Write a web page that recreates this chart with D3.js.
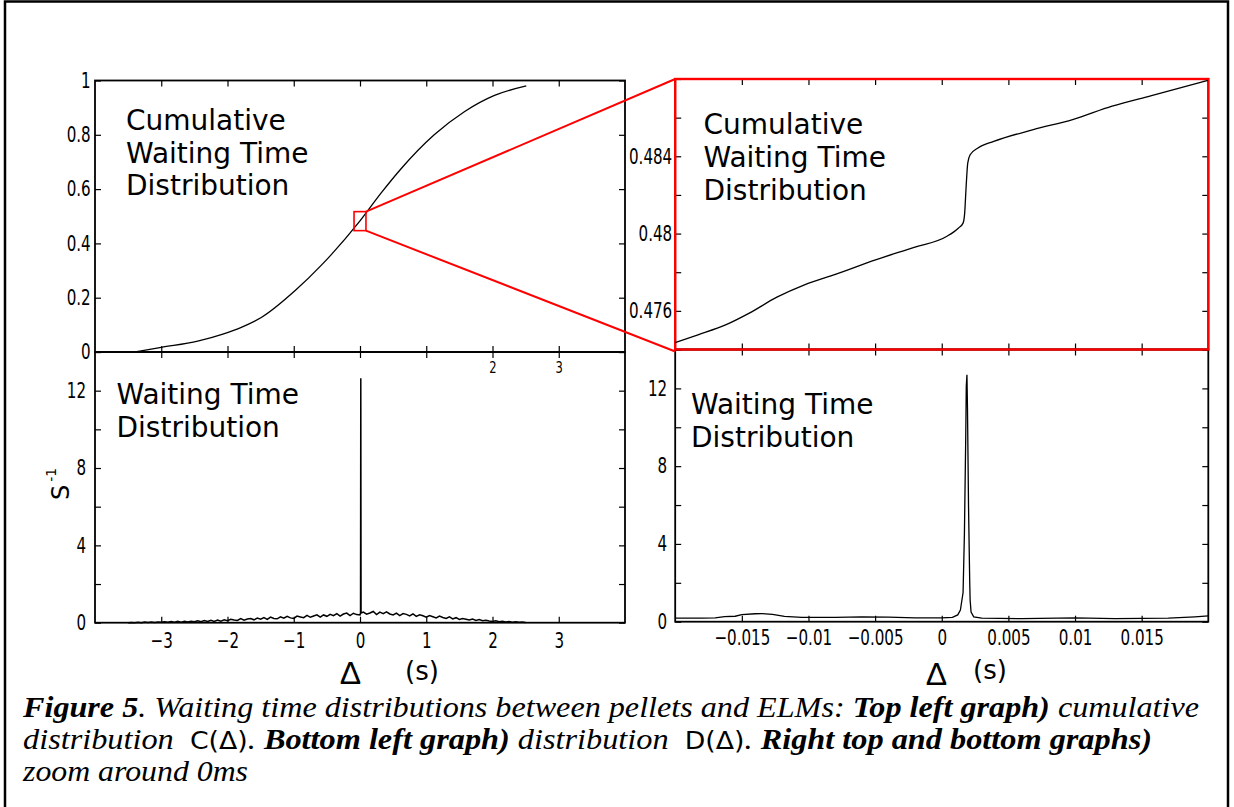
<!DOCTYPE html>
<html>
<head>
<meta charset="utf-8">
<script src="https://cdn.jsdelivr.net/npm/d3@7"></script>
<style>
  body { margin: 0; background: #fff; }
</style>
</head>
<body>
<div id="chart"></div>
<script>
var width = 1234,
    height = 807;

// top left: cumulative waiting time distribution, wide view (s)
var cumX = [-3.4, -3.0, -2.45, -2.07, -1.8, -1.49, -0.97, -0.59, -0.44, 0, 0.317, 0.62, 1.12, 1.575, 2.03, 2.51];
var cumY = [0, 0.017, 0.04, 0.066, 0.09, 0.127, 0.228, 0.318, 0.357, 0.483, 0.585, 0.675, 0.8, 0.885, 0.945, 0.98];

// top right: cumulative, zoom around 0
var zoomCumX = [-0.02, -0.01829, -0.01622, -0.01444, -0.01237, -0.0103, -0.00793, -0.00497, -0.00201, 0.00036, 0.00124, 0.0016,
                0.00172, 0.00183, 0.00195, 0.00213, 0.00272, 0.0039, 0.00687, 0.00982, 0.01278, 0.01574, 0.01997];
var zoomCumY = [0.47436, 0.47476, 0.47527, 0.47588, 0.47671, 0.47735, 0.4779, 0.47864, 0.4793, 0.47985, 0.48028, 0.48054,
                0.48106, 0.48244, 0.48365, 0.48408, 0.48443, 0.48477, 0.48538, 0.4859, 0.48659, 0.48714, 0.48793];

// bottom left: waiting time distribution (s^-1), bins of 0.05 s starting at -3.5 s
var distStart = -3.5, distStep = 0.05;
var distY = [
  0.00, 0.01, 0.00, 0.02, 0.00, 0.03, 0.01, 0.03, 0.01, 0.04,
  0.02, 0.05, 0.02, 0.06, 0.03, 0.07, 0.03, 0.08, 0.04, 0.08,
  0.05, 0.10, 0.05, 0.11, 0.06, 0.13, 0.07, 0.14, 0.08, 0.15,
  0.10, 0.18, 0.14, 0.12, 0.21, 0.13, 0.19, 0.22, 0.15, 0.24,
  0.18, 0.26, 0.17, 0.29, 0.22, 0.20, 0.30, 0.23, 0.33, 0.25,
  0.22, 0.34, 0.30, 0.26, 0.38, 0.28, 0.35, 0.41, 0.29, 0.40,
  0.33, 0.43, 0.36, 0.47, 0.34, 0.45, 0.50, 0.37, 0.49, 0.42,
  0.40, 0.55, 0.44, 0.50, 0.58, 0.42, 0.55, 0.47, 0.56, 0.45,
  0.40, 0.50, 0.37, 0.47, 0.43, 0.35, 0.46, 0.33, 0.41, 0.36,
  0.28, 0.37, 0.31, 0.25, 0.34, 0.27, 0.22, 0.30, 0.20, 0.26,
  0.17, 0.22, 0.18, 0.14, 0.19, 0.12, 0.16, 0.10, 0.13, 0.09,
  0.06, 0.10, 0.05, 0.08, 0.04, 0.06, 0.03, 0.05, 0.02, 0.03,
  0.01
];
var spikeX = [0.008, 0.012, 0.016];
var spikeY = [0.5, 12.64, 0.5];

// bottom right: distribution, zoom around 0
var zoomDistX = [-0.02, -0.018, -0.017, -0.0163, -0.0155, -0.015, -0.014, -0.0135, -0.0127, -0.0118, -0.0105, -0.008, -0.006,
                 -0.004, -0.002, 0, 0.0008, 0.0012, 0.0014, 0.0016, 0.0017, 0.0018, 0.00184, 0.00189, 0.00193, 0.00201,
                 0.0021, 0.00213, 0.0022, 0.0024, 0.003, 0.006, 0.01, 0.013, 0.017, 0.019, 0.02];
var zoomDistY = [0.18, 0.18, 0.2, 0.26, 0.28, 0.36, 0.41, 0.42, 0.38, 0.27, 0.22, 0.22, 0.25,
                 0.24, 0.2, 0.2, 0.22, 0.35, 0.6, 1.5, 4.5, 9.5, 12.1, 12.7, 11.0, 5.9,
                 2.0, 1.1, 0.5, 0.25, 0.18, 0.16, 0.2, 0.16, 0.18, 0.25, 0.3];

// ticks and tick labels
var wideXTicks = [-3, -2, -1, 0, 1, 2, 3];
var wideXLabels = ["\u22123", "\u22122", "\u22121", "0", "1", "2", "3"];
var cumTopXLabels = ["", "", "", "", "", "2", "3"];
var cumYTicks = [0, 0.2, 0.4, 0.6, 0.8, 1];
var cumYLabels = ["0", "0.2", "0.4", "0.6", "0.8", "1"];
var distYTicks = [0, 2, 4, 6, 8, 10, 12, 14];
var distYLabels = ["0", "", "4", "", "8", "", "12", ""];
var zoomXTicks = [-0.015, -0.01, -0.005, 0, 0.005, 0.01, 0.015];
var zoomXLabels = ["\u22120.015", "\u22120.01", "\u22120.005", "0", "0.005", "0.01", "0.015"];
var zoomCumYTicks = [0.474, 0.476, 0.478, 0.48, 0.482, 0.484, 0.486, 0.488];
var zoomCumYLabels = ["", "0.476", "", "0.48", "", "0.484", "", ""];
var zoomBox = { x: [-0.09, 0.09], y: [0.447, 0.517] };

var tickFont = "'DejaVu Sans Condensed', 'DejaVu Sans', sans-serif";
var sans = "'DejaVu Sans', sans-serif";
var thin = "'Liberation Sans', Arial, sans-serif";
var serif = "'Liberation Serif', 'Times New Roman', serif";
var squeeze = 0.8;

var svg = d3.select("#chart").append("svg")
    .attr("width", width)
    .attr("height", height)
    .style("display", "block");

svg.append("rect")
    .attr("x", 5).attr("y", 1.5)
    .attr("width", 1223).attr("height", 830)
    .attr("fill", "none").attr("stroke", "#000").attr("stroke-width", 2.5);

var xWide = d3.scaleLinear().domain([-4, 4]).range([95, 625]);
var yCum = d3.scaleLinear().domain([0, 1]).range([352, 80.5]);
var yDist = d3.scaleLinear().domain([0, 14]).range([622.7, 352]);
var xZoom = d3.scaleLinear().domain([-0.02, 0.02]).range([675.2, 1208.3]);
var yZoomCum = d3.scaleLinear().domain([0.474, 0.488]).range([349.5, 79]);
var yZoomDist = d3.scaleLinear().domain([0, 14]).range([621.7, 349.5]);

function styleTicks(g, size) {
    g.select(".domain").remove();
    g.selectAll("line").attr("stroke", "#000").attr("stroke-width", 1.2);
    g.selectAll("text")
        .style("font-family", tickFont)
        .style("font-stretch", "condensed")
        .style("font-size", size + "px")
        .attr("fill", "#000")
        .attr("transform", "scale(" + squeeze + ",1)");
}

function panel(o) {
    var x = o.x, y = o.y;
    var xr = x.range(), yr = y.range();
    var g = svg.append("g");

    g.append("g").attr("transform", "translate(" + xr[0] + ",0)")
        .call(d3.axisLeft(y).tickValues(o.yTicks).tickSizeInner(-6).tickSizeOuter(0)
            .tickPadding(o.yPad / squeeze)
            .tickFormat(function(d, i) { return o.yLabels[i]; }))
        .call(styleTicks, 21);

    g.append("g").attr("transform", "translate(" + xr[1] + ",0)")
        .call(d3.axisRight(y).tickValues(o.yTicks).tickSizeInner(-6).tickSizeOuter(0).tickFormat(""))
        .call(styleTicks, 21);

    g.append("g").attr("transform", "translate(0," + yr[1] + ")")
        .call(d3.axisTop(x).tickValues(o.xTicks).tickSizeInner(-6).tickSizeOuter(0).tickFormat(""))
        .call(styleTicks, 21);

    g.append("g").attr("transform", "translate(0," + yr[0] + ")")
        .call(d3.axisBottom(x).tickValues(o.xTicks).tickSizeInner(-6).tickSizeOuter(0)
            .tickPadding(o.xPad)
            .tickFormat(function(d, i) { return o.xLabels[i]; }))
        .call(styleTicks, o.xSize);

    g.append("rect")
        .attr("x", xr[0]).attr("y", yr[1])
        .attr("width", xr[1] - xr[0]).attr("height", yr[0] - yr[1])
        .attr("fill", "none").attr("stroke", "#000").attr("stroke-width", 1.8);

    var t = g.append("text")
        .style("font-family", sans)
        .style("font-size", "28px")
        .attr("fill", "#000");
    o.title.forEach(function(line, i) {
        t.append("tspan").attr("x", o.tx).attr("y", o.ty + i * o.tdy).text(line);
    });
    return g;
}

panel({ x: xWide, y: yCum, xTicks: wideXTicks, xLabels: cumTopXLabels, xPad: 10, xSize: 16,
        yTicks: cumYTicks, yLabels: cumYLabels, yPad: 4.3,
        title: ["Cumulative", "Waiting Time", "Distribution"], tx: 126, ty: 130, tdy: 32.5 });

panel({ x: xWide, y: yDist, xTicks: wideXTicks, xLabels: wideXLabels, xPad: 10, xSize: 21,
        yTicks: distYTicks, yLabels: distYLabels, yPad: 9,
        title: ["Waiting Time", "Distribution"], tx: 116.5, ty: 403.5, tdy: 33 });

panel({ x: xZoom, y: yZoomDist, xTicks: zoomXTicks, xLabels: zoomXLabels, xPad: 8, xSize: 21,
        yTicks: distYTicks, yLabels: distYLabels, yPad: 8,
        title: ["Waiting Time", "Distribution"], tx: 691, ty: 414, tdy: 33 });

panel({ x: xZoom, y: yZoomCum, xTicks: zoomXTicks, xLabels: zoomXTicks.map(function() { return ""; }), xPad: 8, xSize: 21,
        yTicks: zoomCumYTicks, yLabels: zoomCumYLabels, yPad: 3,
        title: ["Cumulative", "Waiting Time", "Distribution"], tx: 703.5, ty: 134, tdy: 33 });

// red frame over the zoomed cumulative panel
svg.append("rect")
    .attr("x", xZoom(-0.02)).attr("y", yZoomCum(0.488))
    .attr("width", xZoom(0.02) - xZoom(-0.02)).attr("height", yZoomCum(0.474) - yZoomCum(0.488))
    .attr("fill", "none").attr("stroke", "#f00").attr("stroke-width", 2.4);

// curves
var cumLine = d3.line().curve(d3.curveMonotoneX)
    .x(function(d) { return xWide(d[0]); })
    .y(function(d) { return yCum(d[1]); });
svg.append("path")
    .attr("d", cumLine(cumX.map(function(v, i) { return [v, cumY[i]]; })))
    .attr("fill", "none").attr("stroke", "#000").attr("stroke-width", 1.3);

var distPts = distY.map(function(v, i) { return [distStart + i * distStep, v]; })
    .concat(spikeX.map(function(v, i) { return [v, spikeY[i]]; }))
    .sort(function(a, b) { return a[0] - b[0]; });
var distLine = d3.line()
    .x(function(d) { return xWide(d[0]); })
    .y(function(d) { return yDist(d[1]); });
svg.append("path")
    .attr("d", distLine(distPts))
    .attr("fill", "none").attr("stroke", "#000").attr("stroke-width", 1.5);

var zoomCumLine = d3.line().curve(d3.curveMonotoneX)
    .x(function(d) { return xZoom(d[0]); })
    .y(function(d) { return yZoomCum(d[1]); });
svg.append("path")
    .attr("d", zoomCumLine(zoomCumX.map(function(v, i) { return [v, zoomCumY[i]]; })))
    .attr("fill", "none").attr("stroke", "#000").attr("stroke-width", 1.3);

var zoomDistLine = d3.line()
    .x(function(d) { return xZoom(d[0]); })
    .y(function(d) { return yZoomDist(d[1]); });
svg.append("path")
    .attr("d", zoomDistLine(zoomDistX.map(function(v, i) { return [v, zoomDistY[i]]; })))
    .attr("fill", "none").attr("stroke", "#000").attr("stroke-width", 1.3);

// zoom box and the two connecting lines
var bx0 = xWide(zoomBox.x[0]), bx1 = xWide(zoomBox.x[1]),
    by0 = yCum(zoomBox.y[1]), by1 = yCum(zoomBox.y[0]);
svg.append("rect")
    .attr("x", bx0).attr("y", by0).attr("width", bx1 - bx0).attr("height", by1 - by0)
    .attr("fill", "none").attr("stroke", "#f00").attr("stroke-width", 1.6);
svg.append("line")
    .attr("x1", bx1).attr("y1", by0).attr("x2", xZoom(-0.02)).attr("y2", yZoomCum(0.488))
    .attr("stroke", "#f00").attr("stroke-width", 2);
svg.append("line")
    .attr("x1", bx1).attr("y1", by1).attr("x2", xZoom(-0.02)).attr("y2", yZoomCum(0.474) + 2)
    .attr("stroke", "#f00").attr("stroke-width", 2);

// axis titles
svg.append("text").attr("x", 350.5).attr("y", 684).attr("text-anchor", "middle")
    .style("font-family", thin).style("font-size", "32px").text("\u0394");
svg.append("text").attr("x", 405).attr("y", 680)
    .style("font-family", sans).style("font-size", "26px").text("(s)");
svg.append("text").attr("x", 936.5).attr("y", 684.5).attr("text-anchor", "middle")
    .style("font-family", thin).style("font-size", "32px").text("\u0394");
svg.append("text").attr("x", 973).attr("y", 679)
    .style("font-family", sans).style("font-size", "26px").text("(s)");

var yl = svg.append("text")
    .attr("transform", "translate(69,500) rotate(-90)")
    .style("font-family", sans).style("font-size", "24px");
yl.append("tspan").text("S");
yl.append("tspan").style("font-size", "14px").attr("dx", 3).attr("dy", -13).text("-1");

// caption
var caption = [
    { y: 717, len: 1176, parts: [["Figure 5", "b"], [". Waiting time distributions between pellets and ELMs: ", "i"], ["Top left graph)", "b"], [" cumulative", "i"]] },
    { y: 749, len: 1129, parts: [["distribution  ", "i"], ["C(\u0394)", "s"], [". ", "i"], ["Bottom left graph)", "b"], [" distribution  ", "i"], ["D(\u0394)", "s"], [". ", "i"], ["Right top and bottom graphs)", "b"]] },
    { y: 781, len: 225, parts: [["zoom around 0ms", "i"]] }
];
caption.forEach(function(line) {
    var t = svg.append("text")
        .attr("x", 23).attr("y", line.y)
        .attr("textLength", line.len).attr("lengthAdjust", "spacingAndGlyphs")
        .style("font-family", serif)
        .style("font-size", "29px").style("font-style", "italic")
        .style("white-space", "pre");
    line.parts.forEach(function(p) {
        var s = t.append("tspan").text(p[0]);
        if (p[1] === "b") s.style("font-weight", "bold");
        if (p[1] === "s") s.style("font-family", sans).style("font-style", "normal").style("font-size", "24px");
    });
});
</script>
</body>
</html>
